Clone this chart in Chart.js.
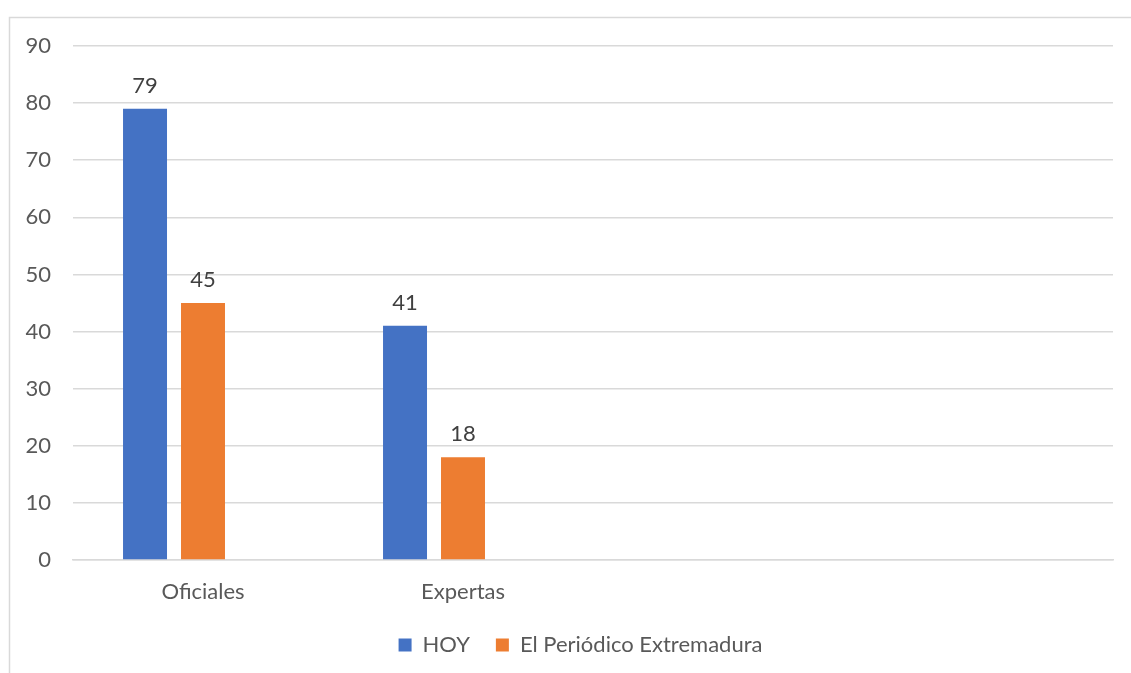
<!DOCTYPE html>
<html><head><meta charset="utf-8">
<script src="https://cdn.jsdelivr.net/npm/chart.js@4/dist/chart.umd.min.js"></script>
<style>html,body{margin:0;padding:0;background:#fff;}#wrap{width:1131px;height:673px;position:relative;}</style>
</head><body><div id="wrap"><canvas id="c" width="1131" height="673"></canvas></div>
<script>
const categories = ["Oficiales", "Expertas", "", ""];
const hoyValues = [79, 41, null, null];
const periodicoValues = [45, 18, null, null];
const emptyValues = [null, null, null, null];
const seriesNames = ["HOY", "El Periódico Extremadura"];
const yTicks = [0, 10, 20, 30, 40, 50, 60, 70, 80, 90];

const TEXT = '#595959';
const FONT = 'Lato, sans-serif';
const FS = 22;

const framePlugin = {
  id: 'frame',
  beforeDraw(chart) {
    const ctx = chart.ctx;
    ctx.save();
    ctx.fillStyle = '#fff';
    ctx.fillRect(0, 0, chart.width, chart.height);
    ctx.strokeStyle = '#d9d9d9';
    ctx.lineWidth = 1.5;
    ctx.beginPath();
    ctx.moveTo(9.5, chart.height);
    ctx.lineTo(9.5, 17.5);
    ctx.lineTo(chart.width, 17.5);
    ctx.stroke();
    ctx.restore();
  }
};

const legendShift = {
  id: 'legendShift',
  afterUpdate(chart) {
    if (chart.legend) {
      chart.legend.left += 24;
      chart.legend.right += 24;
    }
  }
};

const valueLabels = {
  id: 'valueLabels',
  afterDatasetsDraw(chart) {
    const ctx = chart.ctx;
    ctx.save();
    ctx.font = FS + 'px ' + FONT;
    ctx.fillStyle = '#404040';
    ctx.textAlign = 'center';
    ctx.textBaseline = 'middle';
    chart.data.datasets.forEach((ds, i) => {
      const meta = chart.getDatasetMeta(i);
      meta.data.forEach((bar, j) => {
        const v = ds.data[j];
        if (v === null || v === undefined) return;
        ctx.fillText(String(v), bar.x, bar.y - 23);
      });
    });
    ctx.restore();
  }
};

new Chart(document.getElementById('c'), {
  type: 'bar',
  data: {
    labels: categories,
    datasets: [
      { label: seriesNames[0], data: hoyValues, backgroundColor: '#4472C4' },
      { label: seriesNames[1], data: periodicoValues, backgroundColor: '#ED7D31' },
      { label: '', data: emptyValues, backgroundColor: '#A5A5A5' }
    ]
  },
  options: {
    responsive: false,
    animation: false,
    devicePixelRatio: 1,
    datasets: { bar: { categoryPercentage: 0.669, barPercentage: 0.7586 } },
    layout: { padding: { left: 0, right: 18, top: 46, bottom: 7 } },
    scales: {
      x: {
        grid: { display: false, drawTicks: false },
        border: { display: true, color: '#d9d9d9', width: 1.5 },
        ticks: { color: TEXT, font: { family: FONT, size: FS }, padding: 19 },
        afterFit(s) { s.height = 48; }
      },
      y: {
        min: 0, max: 90,
        afterBuildTicks(s) { s.ticks = yTicks.map(v => ({ value: v })); },
        grid: { color: '#d9d9d9', lineWidth: 1.5, drawTicks: false },
        border: { display: false },
        ticks: { color: TEXT, font: { family: FONT, size: FS }, padding: 22 },
        afterFit(s) { s.width = 73; }
      }
    },
    plugins: {
      legend: {
        position: 'bottom',
        labels: {
          filter: (item) => item.text !== '',
          boxWidth: 13, boxHeight: 13,
          color: TEXT,
          font: { family: FONT, size: FS },
          padding: 26
        }
      },
      tooltip: { enabled: false }
    }
  },
  plugins: [framePlugin, legendShift, valueLabels]
});
</script>
</body></html>
